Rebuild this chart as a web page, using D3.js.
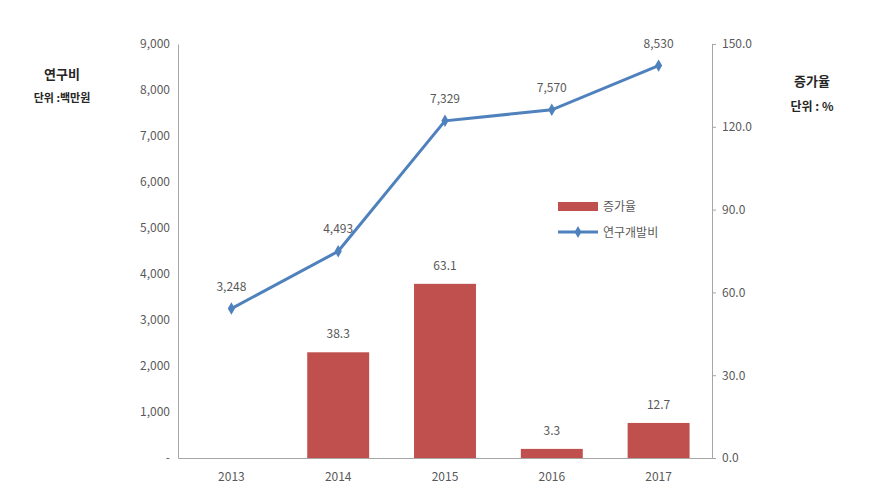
<!DOCTYPE html>
<html><head><meta charset="utf-8">
<script src="https://cdn.jsdelivr.net/npm/d3@7"></script>
<style>body{margin:0;background:#fff}svg{display:block}text{font-family:"Noto Sans CJK KR","Noto Sans",sans-serif}</style>
</head><body><svg id="c" width="875" height="502"></svg>
<script>
const years = ["2013","2014","2015","2016","2017"];
const rdCost = [3248, 4493, 7329, 7570, 8530];          // 연구개발비 (백만원)
const growth = [null, 38.3, 63.1, 3.3, 12.7];            // 증가율 (%)
const leftTicks = [0,1000,2000,3000,4000,5000,6000,7000,8000,9000];
const rightTicks = [0,30,60,90,120,150];

const svg = d3.select("#c");
const L = 178, R = 712, T = 44, B = 458;
const x = d3.scaleBand().domain(years).range([L, R]).paddingInner(0.42).paddingOuter(0.21);
const xc = d => x(d) + x.bandwidth()/2;
const yL = d3.scaleLinear().domain([0, 9000]).range([B, T]);
const yR = d3.scaleLinear().domain([0, 150]).range([B, T]);
const txt = "#595959", axisCol = "#a6a6a6";

// left axis
const la = svg.append("g").attr("transform", `translate(${L},0)`)
  .call(d3.axisLeft(yL).tickValues(leftTicks).tickSize(0).tickPadding(8)
    .tickFormat(d => d === 0 ? "-" : d3.format(",")(d)));
la.select(".domain").attr("stroke", axisCol);
la.selectAll("text").attr("fill", txt).style("font-size", "12px");

// right axis
const ra = svg.append("g").attr("transform", `translate(${R},0)`)
  .call(d3.axisRight(yR).tickValues(rightTicks).tickSize(4).tickPadding(6)
    .tickFormat(d3.format(".1f")));
ra.select(".domain").attr("stroke", axisCol);
ra.selectAll(".tick line").attr("stroke", axisCol);
ra.selectAll("text").attr("fill", txt).style("font-size", "12px");

// bottom axis
const ba = svg.append("g").attr("transform", `translate(0,${B})`)
  .call(d3.axisBottom(x).tickSize(0).tickPadding(14));
ba.select(".domain").attr("stroke", axisCol);
ba.selectAll("text").attr("fill", txt).style("font-size", "12px");

// bars
const barData = years.map((y,i)=>({y, v: growth[i]})).filter(d => d.v != null);
svg.selectAll("rect.bar").data(barData).enter().append("rect")
  .attr("x", d => x(d.y)).attr("width", x.bandwidth())
  .attr("y", d => yR(d.v)).attr("height", d => B - yR(d.v))
  .attr("fill", "#c0504d");
svg.selectAll("text.bl").data(barData).enter().append("text")
  .attr("x", d => xc(d.y)).attr("y", d => yR(d.v) - 14)
  .attr("text-anchor", "middle").attr("fill", txt).style("font-size", "12px")
  .text(d => d3.format(".1f")(d.v));

// line
const lineData = years.map((y,i)=>({y, v: rdCost[i]}));
svg.append("path").datum(lineData)
  .attr("d", d3.line().x(d => xc(d.y)).y(d => yL(d.v)))
  .attr("fill", "none").attr("stroke", "#4f81bd").attr("stroke-width", 3);
svg.selectAll("path.m").data(lineData).enter().append("path")
  .attr("d", d3.symbol(d3.symbolDiamond, 45)())
  .attr("transform", d => `translate(${xc(d.y)},${yL(d.v)})`)
  .attr("fill", "#4f81bd");
svg.selectAll("text.ll").data(lineData).enter().append("text")
  .attr("x", d => xc(d.y)).attr("y", d => yL(d.v) - 18)
  .attr("text-anchor", "middle").attr("fill", txt).style("font-size", "12px")
  .text(d => d3.format(",")(d.v));

// axis titles
svg.append("text").attr("x", 62).attr("y", 79).attr("text-anchor","middle")
  .attr("fill","#262626").style("font-size","13px").style("font-weight","bold").text("연구비");
svg.append("text").attr("x", 62).attr("y", 102).attr("text-anchor","middle")
  .attr("fill","#262626").style("font-size","11px").style("font-weight","bold").text("단위 :백만원");
svg.append("text").attr("x", 812).attr("y", 86).attr("text-anchor","middle")
  .attr("fill","#262626").style("font-size","13px").style("font-weight","bold").text("증가율");
svg.append("text").attr("x", 812).attr("y", 111).attr("text-anchor","middle")
  .attr("fill","#262626").style("font-size","12px").style("font-weight","bold").text("단위 : %");

// legend
const lg = svg.append("g");
lg.append("rect").attr("x", 558).attr("y", 202).attr("width", 40).attr("height", 9).attr("fill", "#c0504d");
lg.append("text").attr("x", 603).attr("y", 211).attr("fill", txt).style("font-size","12px").text("증가율");
lg.append("line").attr("x1", 558).attr("x2", 598).attr("y1", 232).attr("y2", 232)
  .attr("stroke", "#4f81bd").attr("stroke-width", 3);
lg.append("path").attr("d", d3.symbol(d3.symbolDiamond, 40)()).attr("transform","translate(578,232)").attr("fill","#4f81bd");
lg.append("text").attr("x", 603).attr("y", 237).attr("fill", txt).style("font-size","12px").text("연구개발비");
</script></body></html>
